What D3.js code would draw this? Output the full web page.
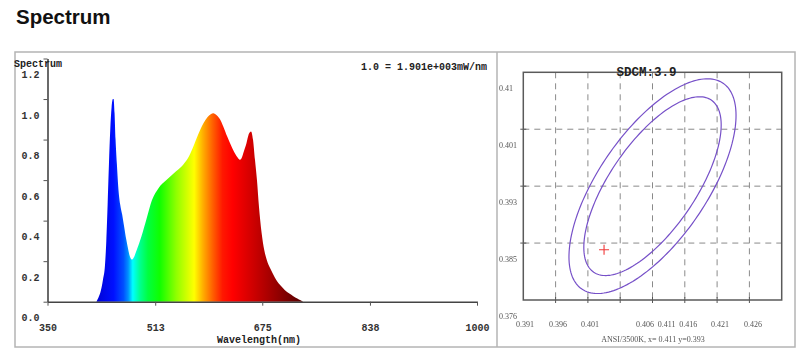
<!DOCTYPE html>
<html>
<head>
<meta charset="utf-8">
<script src="https://cdn.jsdelivr.net/npm/d3@7/dist/d3.min.js"></script>
<style>
  html, body { margin: 0; padding: 0; background: #fff; }
  svg { display: block; }
</style>
</head>
<body>
<svg id="chart" width="800" height="360"></svg>
<script>
// ---------- DATA ----------
const wavelengths = [424, 427, 430, 434, 437, 439, 441, 443, 445, 447, 449, 450, 451.5, 453, 455, 457, 460, 463, 466, 469, 472, 475, 477.5, 480, 485, 492, 500, 508, 518, 530, 545, 555, 562, 570, 578, 586, 592, 597, 601, 606, 611, 616, 622, 628, 634, 638, 641, 644, 647, 651, 655, 658, 661, 664, 667, 670, 674, 678, 682, 687, 694, 702, 709, 716, 722, 728, 733, 737];
const intensities = [0, 0.02, 0.045, 0.11, 0.18, 0.3, 0.48, 0.68, 0.85, 0.96, 1.0, 1.0, 0.93, 0.8, 0.68, 0.57, 0.48, 0.43, 0.37, 0.31, 0.26, 0.22, 0.208, 0.215, 0.255, 0.32, 0.41, 0.5, 0.56, 0.6, 0.645, 0.675, 0.705, 0.76, 0.825, 0.88, 0.91, 0.925, 0.93, 0.92, 0.9, 0.865, 0.815, 0.77, 0.73, 0.71, 0.7, 0.71, 0.74, 0.78, 0.83, 0.84, 0.8, 0.7, 0.6, 0.47, 0.34, 0.255, 0.205, 0.165, 0.12, 0.082, 0.058, 0.04, 0.027, 0.016, 0.007, 0];
const xTickValues = [350, 513, 675, 838, 1000];
const yTickValues = [0, 0.2, 0.4, 0.6, 0.8, 1.0, 1.2];
const scaleNote = "1.0 = 1.901e+003mW/nm";

// chromaticity panel
const cieXGrid = [0.396, 0.401, 0.406, 0.411, 0.416, 0.421, 0.426];
const cieYLevels = [0.376, 0.3845, 0.393, 0.4015, 0.41];
const cieYLabels = ["0.376", "0.385", "0.393", "0.401", "0.41"];
const cieXLabels = ["0.391", "0.396", "0.401", "0.406", "0.411", "0.416", "0.421", "0.426"];
const cieXLabelAt = [0.39126, 0.39637, 0.40133, 0.40984, 0.4132, 0.41654, 0.42145, 0.42656];
const ellipseCenter = [0.411, 0.393];
const outerEllipse = { u: [0.01093, 0.01537], v: [0.00691, -0.00456] };
const innerEllipse = { u: [0.0091, 0.01285], v: [0.0055, -0.00361] };
const measuredPoint = [0.4035, 0.3835];
const sdcmText = "SDCM:3.9";
const standardText = "ANSI/3500K, x= 0.411 y=0.393";

// colour stops of the spectrum fill (wavelength -> colour)
const specStops = [
  [420, "#0000d0"], [450, "#0010ff"], [465, "#0050ff"], [472, "#0090ff"],
  [479, "#00ffff"], [490, "#00ff90"], [502, "#00ff40"], [520, "#10ff00"],
  [545, "#90ff00"], [572, "#ffff00"], [585, "#ffb000"], [600, "#ff6000"],
  [615, "#ff1800"], [630, "#ff0000"], [660, "#d00000"], [690, "#a00000"],
  [740, "#500000"]
];

// ---------- DRAW ----------
const svg = d3.select("#chart");
const mono = "'Liberation Mono', 'DejaVu Sans Mono', monospace";
const serif = "'Liberation Serif', 'DejaVu Serif', serif";

svg.append("rect").attr("width", 800).attr("height", 360).attr("fill", "#fff");

const defs = svg.append("defs");
const flt = defs.append("filter").attr("id", "flat")
  .attr("x", 0).attr("y", 0).attr("width", 1).attr("height", 1);
flt.append("feOffset").attr("dx", 0).attr("dy", 0);

// Title
svg.append("text").attr("x", 16).attr("y", 24)
  .attr("font-family", "'Liberation Sans', Arial, sans-serif")
  .attr("font-weight", "bold").attr("font-size", 20.5).attr("fill", "#111")
  .text("Spectrum");

// Outer frame + divider
svg.append("rect").attr("x", 15).attr("y", 52).attr("width", 780).attr("height", 295)
  .attr("fill", "none").attr("stroke", "#b4b4b4").attr("stroke-width", 1.5);
svg.append("line").attr("x1", 497).attr("x2", 497).attr("y1", 52).attr("y2", 347)
  .attr("stroke", "#b4b4b4").attr("stroke-width", 1.5);

// ---- Spectrum panel ----
const x = d3.scaleLinear().domain([350, 1000]).range([47.5, 477]);
const y = d3.scaleLinear().domain([0, 1.2]).range([301.7, 58.5]);

const grad = defs.append("linearGradient").attr("id", "specGrad")
  .attr("gradientUnits", "userSpaceOnUse")
  .attr("x1", x(350)).attr("x2", x(1000)).attr("y1", 0).attr("y2", 0);
grad.selectAll("stop").data(specStops).join("stop")
  .attr("offset", d => (x(d[0]) - x(350)) / (x(1000) - x(350)))
  .attr("stop-color", d => d[1]);

const specData = wavelengths.map((w, i) => ({ w, v: intensities[i] }));
const area = d3.area().x(d => x(d.w)).y0(y(0)).y1(d => y(d.v)).curve(d3.curveMonotoneX);
svg.append("path").datum(specData).attr("d", area).attr("fill", "url(#specGrad)");

// axes
const xAxis = svg.append("g").attr("transform", `translate(0,${y(0)})`)
  .call(d3.axisBottom(x).tickValues(xTickValues).tickSize(4).tickSizeOuter(0).tickPadding(18)
    .tickFormat(d3.format("d")));
const yAxis = svg.append("g").attr("transform", `translate(${x(350)},0)`)
  .call(d3.axisLeft(y).tickValues(yTickValues).tickSize(4).tickSizeOuter(0).tickPadding(4)
    .tickFormat(d3.format(".1f")));
[xAxis, yAxis].forEach(g => {
  g.select(".domain").attr("stroke", "#444").attr("stroke-width", 1.6);
  g.selectAll(".tick line").attr("stroke", "#555").attr("stroke-width", 1);
  g.selectAll("text").attr("font-family", mono).attr("font-weight", "bold")
    .attr("font-size", 10).attr("fill", "#333");
});
yAxis.selectAll(".tick text").attr("transform", "translate(0,16)");

svg.append("text").attr("x", 14).attr("y", 67)
  .attr("font-family", mono).attr("font-weight", "bold").attr("font-size", 10).attr("fill", "#222")
  .text("Spectrum");
svg.append("text").attr("x", 259).attr("y", 343).attr("text-anchor", "middle")
  .attr("font-family", mono).attr("font-weight", "bold").attr("font-size", 10).attr("fill", "#222")
  .text("Wavelength(nm)");
svg.append("text").attr("x", 487).attr("y", 70).attr("text-anchor", "end")
  .attr("font-family", mono).attr("font-weight", "bold").attr("font-size", 10).attr("fill", "#222")
  .text(scaleNote);

// ---- Chromaticity panel ----
const cx = d3.scaleLinear().domain([0.391, 0.431]).range([523.3, 781.7]);
const cy = d3.scaleLinear().domain([0.376, 0.41]).range([300, 72.3]);

const grid = svg.append("g").attr("stroke", "#8a8a8a").attr("stroke-width", 1)
  .attr("stroke-dasharray", "6,5").attr("fill", "none");
grid.selectAll("line.v").data(cieXGrid).join("line").attr("class", "v")
  .attr("x1", d => cx(d)).attr("x2", d => cx(d)).attr("y1", cy(0.41)).attr("y2", cy(0.376));
grid.selectAll("line.h").data(cieYLevels.slice(1, -1)).join("line").attr("class", "h")
  .attr("y1", d => cy(d)).attr("y2", d => cy(d)).attr("x1", cx(0.391)).attr("x2", cx(0.431));

// small ticks on border
const tk = svg.append("g").attr("stroke", "#555").attr("stroke-width", 1);
tk.selectAll("line.bt").data(cieXGrid).join("line").attr("class", "bt")
  .attr("x1", d => cx(d)).attr("x2", d => cx(d)).attr("y1", cy(0.376) - 3).attr("y2", cy(0.376) + 3);
tk.selectAll("line.lt").data(cieYLevels.slice(1, -1)).join("line").attr("class", "lt")
  .attr("y1", d => cy(d)).attr("y2", d => cy(d)).attr("x1", cx(0.391) - 3).attr("x2", cx(0.391) + 3);

svg.append("rect").attr("x", cx(0.391)).attr("y", cy(0.41))
  .attr("width", cx(0.431) - cx(0.391)).attr("height", cy(0.376) - cy(0.41))
  .attr("fill", "none").attr("stroke", "#5a5a5a").attr("stroke-width", 1.5);

// ellipses
const ts = d3.range(0, 361, 2).map(a => a * Math.PI / 180);
const line = d3.line().x(p => cx(p[0])).y(p => cy(p[1]));
[outerEllipse, innerEllipse].forEach(e => {
  const pts = ts.map(t => [
    ellipseCenter[0] + e.u[0] * Math.cos(t) + e.v[0] * Math.sin(t),
    ellipseCenter[1] + e.u[1] * Math.cos(t) + e.v[1] * Math.sin(t)
  ]);
  svg.append("path").attr("d", line(pts)).attr("fill", "none")
    .attr("stroke", "#7650c8").attr("stroke-width", 1.2);
});

// measured point cross
const px = cx(measuredPoint[0]), py = cy(measuredPoint[1]);
svg.append("path").attr("d", `M${px - 5},${py}H${px + 5}M${px},${py - 5}V${py + 5}`)
  .attr("stroke", "#f03838").attr("stroke-width", 1.1);

// labels
svg.append("text").attr("x", cx(0.411) - 6).attr("y", cy(0.41) + 4).attr("text-anchor", "middle")
  .attr("font-family", mono).attr("font-weight", "bold").attr("font-size", 12.5).attr("fill", "#222")
  .text(sdcmText);
const lab = svg.append("g").attr("filter", "url(#flat)")
  .attr("font-family", serif).attr("font-size", 8).attr("fill", "#555");
lab.selectAll("text.yl").data(cieYLevels).join("text").attr("class", "yl")
  .attr("x", 499).attr("y", (d) => cy(d) + 18.5)
  .text((d, i) => cieYLabels[i]);
lab.selectAll("text.xl").data(cieXLabelAt).join("text").attr("class", "xl")
  .attr("x", d => cx(d)).attr("y", 327).attr("text-anchor", "middle")
  .text((d, i) => cieXLabels[i]);
lab.append("text").attr("x", 653).attr("y", 342).attr("text-anchor", "middle")
  .text(standardText);
</script>
</body>
</html>
